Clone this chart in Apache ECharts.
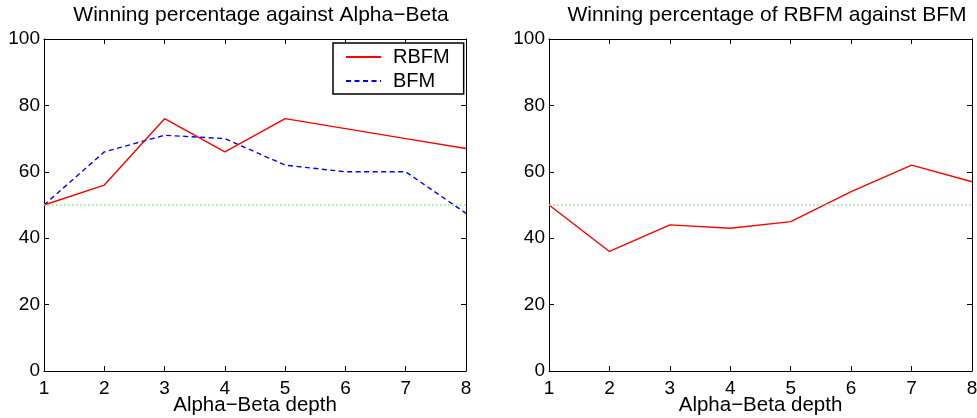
<!DOCTYPE html>
<html><head><meta charset="utf-8">
<script src="https://cdn.jsdelivr.net/npm/echarts@6/dist/echarts.min.js"></script>
<style>html,body{margin:0;padding:0;background:#fff}#c{width:977px;height:418px}</style>
</head><body><div id="c"></div>
<script>
const depth = [1, 2, 3, 4, 5, 6, 7, 8];
const rbfmVsAB = [50, 56, 76, 66, 76, 73, 70, 67];
const bfmVsAB = [50, 66, 71, 70, 62, 60, 60, 47.5];
const rbfmVsBfm = [50, 36, 44, 43, 45, 54, 62, 57];
const refLevel = 50;
const yTicks = [0, 20, 40, 60, 80, 100];
const xTicks = depth;

const font = 'Liberation Sans, Arial, sans-serif';
const pairs = arr => depth.map((d, i) => [d, arr[i]]);
const chart = echarts.init(document.getElementById('c'));

function xAx(gi, bottom) {
  return {
    type: 'value', gridIndex: gi, min: xTicks[0], max: xTicks[xTicks.length - 1], interval: 1,
    position: bottom ? 'bottom' : 'top',
    name: bottom ? 'Alpha\u2212Beta depth' : '', nameLocation: 'middle', nameGap: 24,
    nameMoveOverlap: false,
    nameTextStyle: { color: '#000', fontSize: 20.5, fontFamily: font },
    axisLine: { show: true, onZero: false, lineStyle: { color: '#000', width: 1 } },
    axisTick: { show: true, inside: true, length: 5, lineStyle: { color: '#000' } },
    axisLabel: { show: bottom, color: '#000', fontSize: 19, fontFamily: font, margin: 8 },
    splitLine: { show: false }
  };
}
function yAx(gi, left) {
  return {
    type: 'value', gridIndex: gi, min: yTicks[0], max: yTicks[yTicks.length - 1], interval: 20,
    position: left ? 'left' : 'right',
    axisLine: { show: true, onZero: false, lineStyle: { color: '#000', width: 1 } },
    axisTick: { show: true, inside: true, length: 5, lineStyle: { color: '#000' } },
    axisLabel: { show: left, color: '#000', fontSize: 19, fontFamily: font, margin: 4 },
    splitLine: { show: false }
  };
}
const refLine = {
  silent: true, symbol: 'none', label: { show: false },
  lineStyle: { color: '#7ee87e', type: [1.5, 2.5], width: 1.5 },
  data: [{ yAxis: refLevel }]
};

chart.setOption({
  animation: false,
  title: [
    { text: 'Winning percentage against Alpha\u2212Beta', left: 256, top: 0, textAlign: 'center',
      textStyle: { fontSize: 21, fontWeight: 'normal', color: '#000', fontFamily: font } },
    { text: 'Winning percentage of RBFM against BFM', left: 762, top: 0, textAlign: 'center',
      textStyle: { fontSize: 21, fontWeight: 'normal', color: '#000', fontFamily: font } }
  ],
  legend: {
    orient: 'vertical', left: 333, top: 43,
    data: ['RBFM', 'BFM'],
    borderColor: '#000', borderWidth: 1.5, padding: [4, 14, 3, 12], itemGap: 4,
    itemWidth: 35, itemHeight: 20,
    itemStyle: { opacity: 0, borderWidth: 0 },
    textStyle: { fontSize: 20, color: '#000', fontFamily: font, padding: [0, 0, 0, 7] },
    backgroundColor: '#fff'
  },
  grid: [
    { left: 44, right: 977 - 466, top: 39, bottom: 418 - 371, outerBoundsMode: 'none', containLabel: false },
    { left: 549, right: 977 - 972, top: 39, bottom: 418 - 371, outerBoundsMode: 'none', containLabel: false }
  ],
  xAxis: [xAx(0, true), xAx(0, false), xAx(1, true), xAx(1, false)],
  yAxis: [yAx(0, true), yAx(0, false), yAx(1, true), yAx(1, false)],
  series: [
    { name: 'RBFM', type: 'line', xAxisIndex: 0, yAxisIndex: 0, data: pairs(rbfmVsAB),
      showSymbol: false, symbol: 'none', lineStyle: { color: '#ff0000', width: 1.4 }, itemStyle: { color: '#ff0000' },
      markLine: refLine, z: 3 },
    { name: 'BFM', type: 'line', xAxisIndex: 0, yAxisIndex: 0, data: pairs(bfmVsAB),
      showSymbol: false, symbol: 'none', lineStyle: { color: '#0000ff', width: 1.4, type: [5, 3.5] }, itemStyle: { color: '#0000ff' }, z: 2 },
    { name: 'RBFM vs BFM', type: 'line', xAxisIndex: 2, yAxisIndex: 2, data: pairs(rbfmVsBfm),
      showSymbol: false, symbol: 'none', lineStyle: { color: '#ff0000', width: 1.4 }, itemStyle: { color: '#ff0000' },
      markLine: refLine, z: 3 }
  ]
});
</script></body></html>
